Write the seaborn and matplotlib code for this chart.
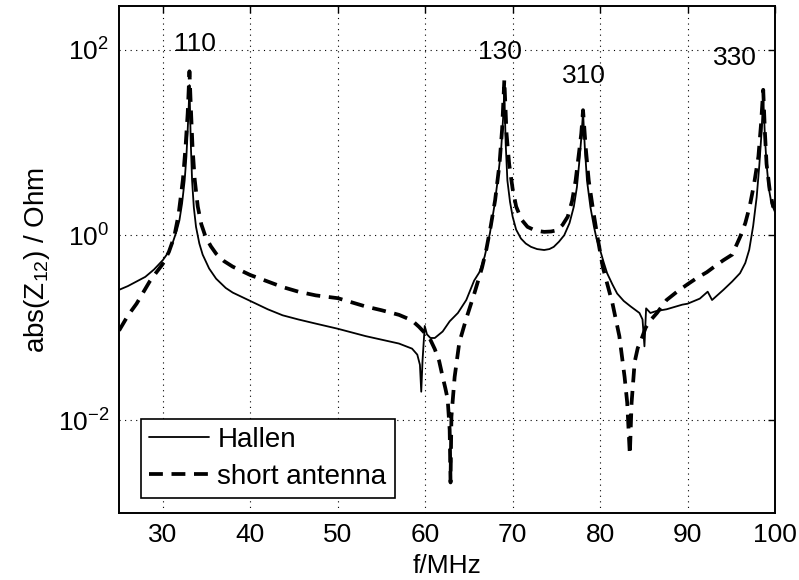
import matplotlib
matplotlib.use('Agg')
import matplotlib.pyplot as plt
import matplotlib.ticker as mticker
import numpy as np
import pandas as pd
import seaborn as sns

# Hallen solution: frequency (MHz) and log10(|Z12| / Ohm)
hallen_f = [25.0, 26.0, 27.0, 28.0, 29.0, 30.0, 30.6, 31.1, 31.6, 31.9, 32.2, 32.5,
            32.7, 32.85, 32.97, 33.05, 33.2, 33.35, 33.55, 33.8, 34.18, 34.56, 35.3, 36.1,
            37.2, 38.0, 40.0, 42.0, 43.7, 45.5, 47.5, 50.0, 53.2, 57.0, 58.5, 59.1,
            59.4, 59.55, 59.7, 59.95, 60.2, 60.6, 61.1, 62.0, 62.8, 63.74, 64.7, 65.6,
            66.2, 66.8, 67.4, 67.9, 68.3, 68.7, 68.9, 69.05, 69.2, 69.4, 69.7, 70.0,
            70.4, 70.95, 71.5, 72.1, 72.8, 73.6, 74.2, 74.7, 75.3, 75.9, 76.5, 77.0,
            77.35, 77.6, 77.85, 78.05, 78.25, 78.5, 78.9, 79.3, 79.6, 80.0, 80.4, 80.8,
            81.4, 81.95, 82.7, 83.5, 84.5, 84.85, 85.07, 85.26, 85.75, 86.4, 87.6, 89.4,
            90.0, 91.4, 92.3, 92.8, 94.1, 95.1, 96.0, 96.6, 97.05, 97.5, 97.9, 98.2,
            98.45, 98.65, 98.85, 99.03, 99.3, 99.6, 100.0]
hallen_log = [-0.59, -0.55, -0.50, -0.45, -0.37, -0.27, -0.19, -0.09, 0.05, 0.16, 0.34, 0.59,
              0.85, 1.14, 1.40, 1.62, 1.00, 0.59, 0.30, 0.09, -0.09, -0.21, -0.36, -0.47,
              -0.57, -0.62, -0.71, -0.80, -0.865, -0.91, -0.955, -1.01, -1.09, -1.17, -1.225, -1.29,
              -1.40, -1.69, -1.35, -0.98, -1.07, -1.11, -1.11, -1.04, -0.93, -0.84, -0.70, -0.49,
              -0.40, -0.23, 0.02, 0.31, 0.60, 0.95, 1.25, 1.55, 1.00, 0.59, 0.36, 0.20,
              0.06, -0.036, -0.09, -0.126, -0.15, -0.16, -0.15, -0.126, -0.07, 0.0, 0.13, 0.31,
              0.52, 0.77, 1.05, 1.33, 0.95, 0.59, 0.30, 0.09, -0.04, -0.16, -0.29, -0.41,
              -0.53, -0.63, -0.71, -0.77, -0.84, -0.91, -1.20, -0.79, -0.84, -0.82, -0.80, -0.75,
              -0.74, -0.685, -0.61, -0.70, -0.59, -0.50, -0.41, -0.30, -0.157, 0.10, 0.41, 0.75,
              1.10, 1.50, 1.05, 0.77, 0.50, 0.34, 0.25]

# short antenna approximation
short_f = [25.0, 26.0, 27.0, 28.0, 28.5, 29.2, 30.0, 30.7, 31.3, 31.8, 32.3, 32.6,
           32.85, 33.05, 33.2, 33.4, 33.65, 34.0, 34.4, 34.9, 35.5, 36.1, 37.0, 38.0,
           40.0, 42.0, 43.7, 45.5, 47.5, 50.0, 53.2, 55.0, 57.0, 58.0, 58.6, 59.3,
           60.0, 60.6, 61.1, 61.6, 62.0, 62.3, 62.57, 62.8, 62.9, 63.0, 63.37, 63.9,
           64.7, 65.65, 66.5, 67.0, 67.5, 68.0, 68.5, 68.8, 69.05, 69.3, 69.6, 70.0,
           70.4, 71.0, 71.7, 72.6, 73.6, 74.4, 75.1, 75.7, 76.3, 76.8, 77.2, 77.6,
           77.85, 78.05, 78.35, 78.7, 79.2, 79.7, 80.3, 80.8, 81.4, 82.2, 82.8, 83.1,
           83.4, 83.6, 83.95, 84.3, 84.7, 85.2, 85.75, 86.5, 87.6, 88.8, 90.0, 91.1,
           92.2, 93.2, 94.1, 95.1, 96.0, 96.6, 97.1, 97.6, 98.1, 98.4, 98.65, 98.85,
           99.03, 99.4, 99.8]
short_log = [-1.03, -0.87, -0.74, -0.58, -0.50, -0.41, -0.31, -0.18, -0.02, 0.22, 0.60, 0.95,
             1.32, 1.77, 1.40, 0.95, 0.60, 0.31, 0.12, -0.02, -0.12, -0.20, -0.28, -0.34,
             -0.43, -0.50, -0.56, -0.61, -0.65, -0.68, -0.77, -0.81, -0.86, -0.90, -0.93, -0.99,
             -1.06, -1.13, -1.23, -1.36, -1.53, -1.65, -1.77, -2.10, -2.67, -1.96, -1.53, -1.16,
             -0.90, -0.62, -0.35, -0.15, 0.10, 0.38, 0.77, 1.15, 1.68, 1.10, 0.77, 0.50,
             0.31, 0.17, 0.09, 0.05, 0.036, 0.04, 0.054, 0.11, 0.20, 0.37, 0.59, 0.90,
             1.10, 1.35, 0.95, 0.59, 0.27, -0.02, -0.34, -0.52, -0.73, -1.09, -1.53, -1.81,
             -2.37, -1.81, -1.37, -1.22, -1.13, -1.00, -0.92, -0.84, -0.70, -0.61, -0.53, -0.46,
             -0.40, -0.33, -0.27, -0.21, -0.02, 0.13, 0.31, 0.55, 0.85, 1.20, 1.57, 1.10,
             0.77, 0.48, 0.30]

# resonance labels
peak_names = ['110', '130', '310', '330']
peak_text_f = [33.7, 68.6, 78.2, 95.45]
peak_text_z = [116, 95, 52, 82]

df_h = pd.DataFrame({'f': hallen_f, 'Z': np.power(10.0, hallen_log)})
df_s = pd.DataFrame({'f': short_f, 'Z': np.power(10.0, short_log)})

sns.set_style('white')
plt.rcParams['font.family'] = ['Liberation Sans', 'DejaVu Sans']
plt.rcParams['mathtext.default'] = 'regular'
plt.rcParams['text.color'] = 'black'
plt.rcParams['axes.labelcolor'] = 'black'
plt.rcParams['xtick.color'] = 'black'
plt.rcParams['ytick.color'] = 'black'
fs = 19

fig = plt.figure(figsize=(7.99, 5.8), dpi=100)
ax = fig.add_axes([0.149, 0.1155, 0.821, 0.8745])

sns.lineplot(data=df_h, x='f', y='Z', ax=ax, color='black', lw=1.3,
             estimator=None, sort=False, label='Hallen')
sns.lineplot(data=df_s, x='f', y='Z', ax=ax, color='black', lw=2.7,
             linestyle=(0, (3.7, 2.3)), estimator=None, sort=False, label='short antenna')

ax.set_yscale('log')
ax.set_xlim(25, 100)
ax.set_ylim(1e-3, 300)
ax.xaxis.set_major_locator(mticker.FixedLocator(range(30, 101, 10)))
ax.yaxis.set_major_locator(mticker.FixedLocator([1e-2, 1e0, 1e2]))
ax.yaxis.set_minor_locator(mticker.NullLocator())
ax.yaxis.set_major_formatter(mticker.LogFormatterSciNotation())

ax.grid(True, color='black', lw=0.8, linestyle=(0, (1, 4)))
ax.tick_params(direction='in', length=5, width=1, top=True, right=True,
               labelsize=fs, colors='black', pad=7)
for s in ax.spines.values():
    s.set_visible(True)
    s.set_color('black')
    s.set_linewidth(1.4)

for name, pf, pz in zip(peak_names, peak_text_f, peak_text_z):
    ax.text(pf, pz, name, ha='center', va='center', fontsize=fs, color='black')

ax.set_xlabel('f/MHz', fontsize=fs, labelpad=5)
ax.set_ylabel('abs(Z$_{12}$) / Ohm', fontsize=20, labelpad=4)

leg = ax.legend(loc='lower left', bbox_to_anchor=(0.0335, 0.0296), borderaxespad=0,
                fontsize=20, fancybox=False, framealpha=1, edgecolor='black',
                handlelength=2.15, handletextpad=0.3, borderpad=0.3, labelspacing=0.38)
leg.get_frame().set_linewidth(1.2)
for t in leg.get_texts():
    t.set_color('black')

fig.savefig('out.png', dpi=100)
